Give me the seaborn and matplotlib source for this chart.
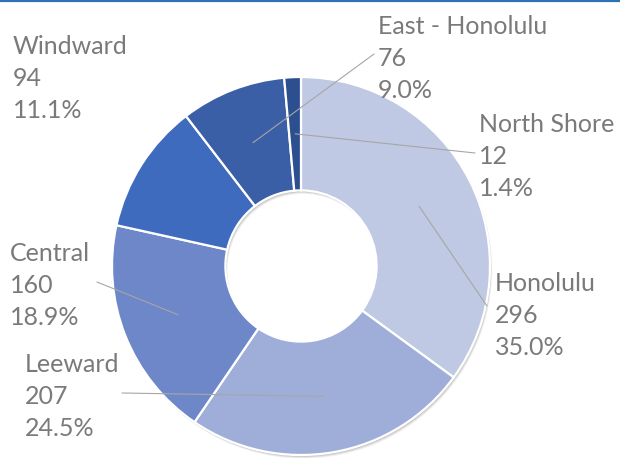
import numpy as np
import matplotlib
matplotlib.use("Agg")
import matplotlib.pyplot as plt
from matplotlib.patches import Wedge
import seaborn as sns

# -------------------------
# Data
# -------------------------
regions = ["Honolulu", "Leeward", "Central", "Windward", "East - Honolulu", "North Shore"]
counts = [296, 207, 160, 94, 76, 12]

# -------------------------
# Style / layout (pixels from top-left of the image)
# -------------------------
colors = sns.color_palette(["#bfc9e4", "#9eaed9", "#6d87c9", "#3e6bbd", "#3a5fa6", "#2c4f8f"])
label_pos = [(495, 272), (25, 353), (10, 242), (13, 35), (378, 15), (479, 113)]
leader_from = [(487, 306), (122, 393), (97, 282), None, (374, 54), (475, 153)]

W, H = 620, 458
CX, CY, R, RING = 301, 266, 189, 0.6
TEXT_COLOR = "#7a7a7a"

sns.set_theme(style="white")
plt.rcParams["font.family"] = ["Lato", "DejaVu Sans"]

fig = plt.figure(figsize=(W / 100, H / 100), dpi=100)
ax = fig.add_axes([0, 0, 1, 1])

# soft shadow under the ring
for off, a in [(3.5, 0.08), (2.5, 0.12), (1.5, 0.18)]:
    ax.add_patch(Wedge((CX + off * 0.6, H - CY - off), R, 0, 360, width=R * RING,
                       facecolor="#404040", edgecolor="none", alpha=a))

ax.pie(
    counts,
    colors=colors,
    startangle=90,
    counterclock=False,
    radius=R,
    center=(CX, H - CY),
    wedgeprops=dict(width=R * RING, edgecolor="white", linewidth=1.6),
)

total = sum(counts)
cum = np.cumsum([0] + counts[:-1])
r_mid = R - R * RING / 2

for i, name in enumerate(regions):
    pct = counts[i] / total * 100
    x, y = label_pos[i]
    ax.text(x, H - y, f"{name}\n{counts[i]}\n{pct:.1f}%", ha="left", va="top",
            fontsize=18, color=TEXT_COLOR, linespacing=1.47)

    if leader_from[i] is not None:
        theta = np.deg2rad(90 - 360 * (cum[i] + counts[i] / 2) / total)
        px = CX + r_mid * np.cos(theta)
        py = H - CY + r_mid * np.sin(theta)
        sx, sy = leader_from[i]
        ax.annotate("", xy=(px, py), xytext=(sx, H - sy),
                    arrowprops=dict(arrowstyle="-", color="#a6a6a6", lw=0.8,
                                    shrinkA=0, shrinkB=0))

# thin blue rule along the top edge
ax.axhline(H - 0.8, color="#2e74b5", lw=1.6)

ax.set_xlim(0, W)
ax.set_ylim(0, H)
ax.axis("off")

fig.savefig("out.png", dpi=100)
plt.close()
